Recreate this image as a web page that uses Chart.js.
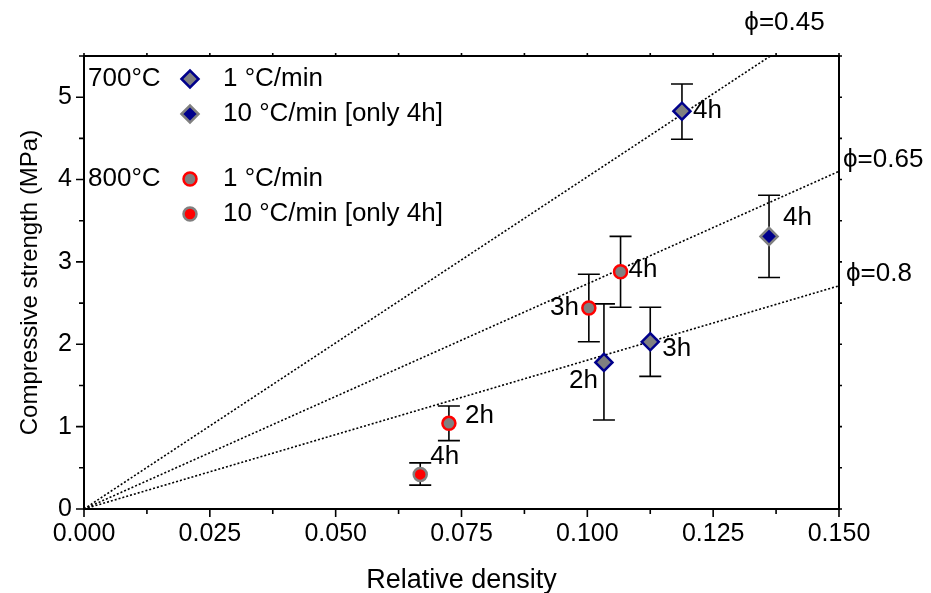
<!DOCTYPE html>
<html><head><meta charset="utf-8">
<script src="https://cdn.jsdelivr.net/npm/chart.js@4"></script>
<style>html,body{margin:0;padding:0;background:#fff}</style>
</head><body>
<canvas id="c" width="931" height="593"></canvas>
<script>
// ---- tick labels ----
const xTickValues = [0, 0.025, 0.05, 0.075, 0.1, 0.125, 0.15];
const yTickValues = [0, 1, 2, 3, 4, 5];
const xMinorTicks = [0.0125, 0.0375, 0.0625, 0.0875, 0.1125, 0.1375];
const yMinorTicks = [0.5, 1.5, 2.5, 3.5, 4.5, 5.5];

// ---- 700 °C, 1 °C/min ----
const s700slowX = [0.1033, 0.1125, 0.1188];
const s700slowY = [1.78, 2.03, 4.83];
const s700slowLow = [1.08, 1.61, 4.49];
const s700slowHigh = [2.49, 2.45, 5.16];
const s700slowLabels = ['2h', '3h', '4h'];

// ---- 700 °C, 10 °C/min ----
const s700fastX = [0.1361];
const s700fastY = [3.31];
const s700fastLow = [2.81];
const s700fastHigh = [3.81];
const s700fastLabels = ['4h'];

// ---- 800 °C, 1 °C/min ----
const s800slowX = [0.0725, 0.1003, 0.1066];
const s800slowY = [1.04, 2.44, 2.88];
const s800slowLow = [0.83, 2.03, 2.45];
const s800slowHigh = [1.25, 2.85, 3.31];
const s800slowLabels = ['2h', '3h', '4h'];

// ---- 800 °C, 10 °C/min ----
const s800fastX = [0.0668];
const s800fastY = [0.42];
const s800fastLow = [0.29];
const s800fastHigh = [0.56];
const s800fastLabels = ['4h'];

// ---- reference lines (phi) ----
const phiNames = ['ϕ=0.45', 'ϕ=0.65', 'ϕ=0.8'];
const phiLineX = [0, 0.15];
const phi045Y = [0, 6.05];
const phi065Y = [0, 4.10];
const phi080Y = [0, 2.71];

// label offsets (pixels) for each point label: [dx, dy], textAlign
const s700slowLabelPos = [[-6, 18, 'right'], [12, 7, 'left'], [11, 0, 'left']];
const s700fastLabelPos = [[14, -19, 'left']];
const s800slowLabelPos = [[16, -8, 'left'], [-10, 0, 'right'], [8, -2, 'left']];
const s800fastLabelPos = [[10, -18, 'left']];

const FONT = '"Liberation Sans", Arial, sans-serif';
const FS_TICK = 25;
const FS_TEXT = 26;
const FS_XTITLE = 27;
const FS_YTITLE = 24;
const NAVY = '#00008B';
const GREY = '#808080';
const RED = '#FF0000';

function pts(xs, ys) { return xs.map((x, i) => ({ x: x, y: ys[i] })); }

const series = [
  { x: s700slowX, y: s700slowY, lo: s700slowLow, hi: s700slowHigh, lab: s700slowLabels, pos: s700slowLabelPos },
  { x: s700fastX, y: s700fastY, lo: s700fastLow, hi: s700fastHigh, lab: s700fastLabels, pos: s700fastLabelPos },
  { x: s800slowX, y: s800slowY, lo: s800slowLow, hi: s800slowHigh, lab: s800slowLabels, pos: s800slowLabelPos },
  { x: s800fastX, y: s800fastY, lo: s800fastLow, hi: s800fastHigh, lab: s800fastLabels, pos: s800fastLabelPos }
];

const phiLine = (ys) => ({
  type: 'line', data: pts(phiLineX, ys), showLine: true, pointRadius: 0,
  borderColor: '#000', borderWidth: 1.6, borderDash: [2, 2], fill: false, order: 5
});

const decorPlugin = {
  id: 'decor',
  beforeDatasetsDraw(chart) {
    const ctx = chart.ctx, xs = chart.scales.x, ys = chart.scales.y;
    ctx.save();
    ctx.strokeStyle = '#000';
    ctx.lineWidth = 1.6;
    series.forEach(s => {
      s.x.forEach((xv, i) => {
        const px = xs.getPixelForValue(xv);
        const pl = ys.getPixelForValue(s.lo[i]);
        const ph = ys.getPixelForValue(s.hi[i]);
        ctx.beginPath();
        ctx.moveTo(px, pl); ctx.lineTo(px, ph);
        ctx.moveTo(px - 11, pl); ctx.lineTo(px + 11, pl);
        ctx.moveTo(px - 11, ph); ctx.lineTo(px + 11, ph);
        ctx.stroke();
      });
    });
    ctx.restore();
  },
  afterDatasetsDraw(chart) {
    const ctx = chart.ctx, xs = chart.scales.x, ys = chart.scales.y;
    const a = chart.chartArea;
    ctx.save();
    // frame
    ctx.strokeStyle = '#000';
    ctx.lineWidth = 2;
    ctx.strokeRect(a.left, a.top, a.right - a.left, a.bottom - a.top);
    ctx.lineWidth = 1.6;
    ctx.beginPath();
    xTickValues.forEach(v => { const p = xs.getPixelForValue(v); ctx.moveTo(p, a.bottom); ctx.lineTo(p, a.bottom + 8); ctx.moveTo(p, a.top); ctx.lineTo(p, a.top - 3); });
    xMinorTicks.forEach(v => { const p = xs.getPixelForValue(v); ctx.moveTo(p, a.bottom); ctx.lineTo(p, a.bottom + 5); ctx.moveTo(p, a.top); ctx.lineTo(p, a.top - 3); });
    yTickValues.forEach(v => { const p = ys.getPixelForValue(v); ctx.moveTo(a.left, p); ctx.lineTo(a.left - 8, p); ctx.moveTo(a.right, p); ctx.lineTo(a.right + 3, p); });
    yMinorTicks.forEach(v => { const p = ys.getPixelForValue(v); ctx.moveTo(a.left, p); ctx.lineTo(a.left - 5, p); ctx.moveTo(a.right, p); ctx.lineTo(a.right + 3, p); });
    ctx.stroke();

    // point labels
    ctx.fillStyle = '#000';
    ctx.font = FS_TEXT + 'px ' + FONT;
    ctx.textBaseline = 'middle';
    series.forEach(s => {
      s.x.forEach((xv, i) => {
        const px = xs.getPixelForValue(xv), py = ys.getPixelForValue(s.y[i]);
        const p = s.pos[i];
        ctx.textAlign = p[2];
        ctx.fillText(s.lab[i], px + p[0], py + p[1]);
      });
    });

    // phi labels
    ctx.textAlign = 'left';
    ctx.fillText(phiNames[0], xs.getPixelForValue(0.1312), a.top - 33);
    ctx.fillText(phiNames[1], a.right + 4, ys.getPixelForValue(phi065Y[1]) - 11);
    ctx.fillText(phiNames[2], a.right + 7, ys.getPixelForValue(phi080Y[1]) - 12);

    // legend
    const lx = a.left + 4, mx = a.left + 106, tx = a.left + 139;
    const rows = [a.top + 23, a.top + 58, a.top + 123, a.top + 158];
    ctx.textAlign = 'left';
    ctx.fillText('700°C', lx, rows[0]);
    ctx.fillText('800°C', lx, rows[2]);
    const texts = ['1 °C/min', '10 °C/min [only 4h]', '1 °C/min', '10 °C/min [only 4h]'];
    const styles = [
      { ps: 'rectRot', r: 8.5, fill: GREY, stroke: NAVY },
      { ps: 'rectRot', r: 8.5, fill: NAVY, stroke: GREY },
      { ps: 'circle', r: 6.5, fill: GREY, stroke: RED },
      { ps: 'circle', r: 6.5, fill: RED, stroke: GREY }
    ];
    styles.forEach((st, i) => {
      ctx.fillStyle = st.fill; ctx.strokeStyle = st.stroke; ctx.lineWidth = 2.5;
      Chart.helpers.drawPoint(ctx, { pointStyle: st.ps, radius: st.r, rotation: 0, borderWidth: 2.5 }, mx, rows[i]);
      ctx.fillStyle = '#000';
      ctx.fillText(texts[i], tx, rows[i]);
    });
    ctx.restore();
  }
};

new Chart(document.getElementById('c'), {
  type: 'scatter',
  data: {
    datasets: [
      { label: '700 1', data: pts(s700slowX, s700slowY), pointStyle: 'rectRot', pointRadius: 8.5, backgroundColor: GREY, borderColor: NAVY, borderWidth: 2.5, order: 1 },
      { label: '700 10', data: pts(s700fastX, s700fastY), pointStyle: 'rectRot', pointRadius: 8.5, backgroundColor: NAVY, borderColor: GREY, borderWidth: 2.5, order: 1 },
      { label: '800 1', data: pts(s800slowX, s800slowY), pointStyle: 'circle', pointRadius: 6.5, backgroundColor: GREY, borderColor: RED, borderWidth: 2.5, order: 1 },
      { label: '800 10', data: pts(s800fastX, s800fastY), pointStyle: 'circle', pointRadius: 6.5, backgroundColor: RED, borderColor: GREY, borderWidth: 2.5, order: 1 },
      phiLine(phi045Y), phiLine(phi065Y), phiLine(phi080Y)
    ]
  },
  options: {
    responsive: false,
    animation: false,
    devicePixelRatio: 1,
    layout: { padding: { top: 56, right: 92, left: 0, bottom: 0 } },
    plugins: { legend: { display: false }, tooltip: { enabled: false } },
    scales: {
      x: {
        type: 'linear', min: 0, max: 0.15,
        afterFit: s => { s.height = 84; },
        afterBuildTicks: s => { s.ticks = xTickValues.map(v => ({ value: v })); },
        grid: { display: false, drawTicks: true, tickLength: 8 },
        border: { display: false },
        ticks: { color: '#000', font: { family: FONT, size: FS_TICK }, padding: 2, maxRotation: 0, autoSkip: false, callback: v => v.toFixed(3) },
        title: { display: true, text: 'Relative density', color: '#000', font: { family: FONT, size: FS_XTITLE }, padding: { top: 14, bottom: -4 } }
      },
      y: {
        type: 'linear', min: 0, max: 5.5,
        afterFit: s => { s.width = 84; },
        afterBuildTicks: s => { s.ticks = yTickValues.map(v => ({ value: v })); },
        grid: { display: false, drawTicks: true, tickLength: 8 },
        border: { display: false },
        ticks: { color: '#000', font: { family: FONT, size: FS_TICK }, padding: 4, autoSkip: false, callback: v => String(v) },
        title: { display: true, text: 'Compressive strength (MPa)', color: '#000', font: { family: FONT, size: FS_YTITLE }, padding: { top: 16, bottom: 0 } }
      }
    }
  },
  plugins: [decorPlugin]
});
</script>
</body></html>
